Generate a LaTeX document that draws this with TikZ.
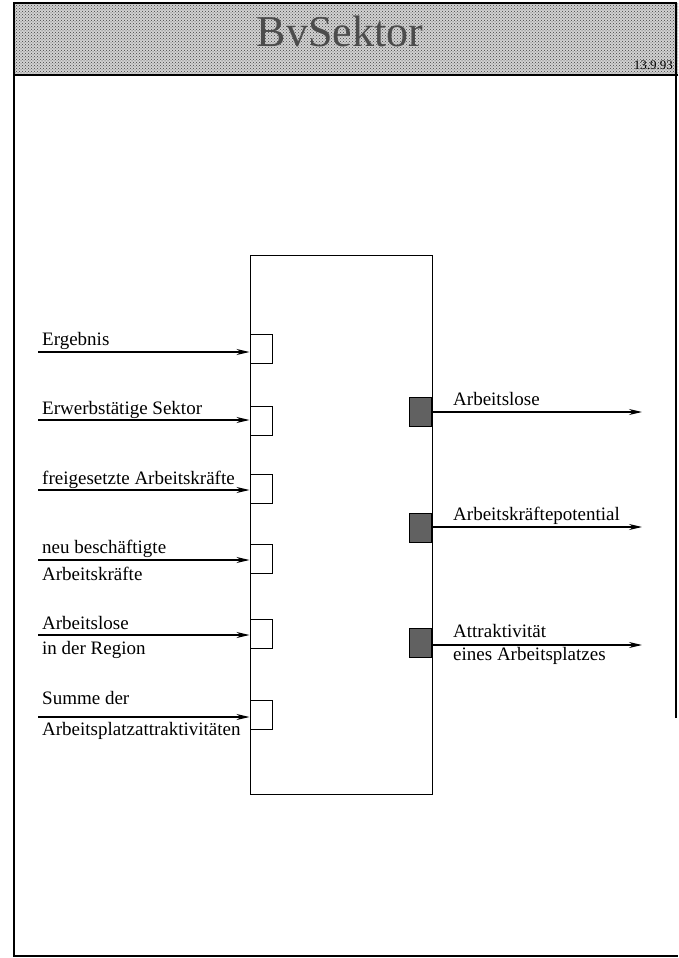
\documentclass[tikz,border=0pt]{standalone}
\usepackage{fontspec}
\setmainfont{Liberation Serif}
\usetikzlibrary{arrows.meta,patterns}
\begin{document}
\begin{tikzpicture}[x=1pt,y=-1pt,
  inport/.style={draw,fill=white,minimum width=22pt,minimum height=29pt,inner sep=0pt,line width=1pt},
  outport/.style={draw,fill=black!62,minimum width=22pt,minimum height=29pt,inner sep=0pt,line width=1pt},
  flow/.style={line width=1.1pt,-{Stealth[length=13pt,width=6pt]}},
  lbl/.style={anchor=base west,inner sep=0pt,font=\fontsize{19}{22}\selectfont}]
\useasboundingbox (0,0) rectangle (678,958);

% header band with dotted shading
\fill[gray!35] (14,3) rectangle (678,75);
\fill[pattern=crosshatch dots, pattern color=black!75] (14,3) rectangle (678,75);
\draw[line width=1.4pt] (14,75) -- (678,75);
\node[anchor=base,inner sep=0pt,text=black!70,font=\fontsize{44}{48}\selectfont] (title) at (340,47) {BvSektor};
\node[anchor=base east,inner sep=0pt,font=\fontsize{13}{15}\selectfont] (date) at (673,70) {13.9.93};

% page frame
\draw[line width=1.6pt] (676,718) -- (676,3) -- (14,3) -- (14,956) -- (678,956);

% block
\node[draw,line width=1.2pt,minimum width=182pt,minimum height=539pt,inner sep=0pt,anchor=north west] (block) at (250,255) {};

% input ports
\node[inport] (p1) at (261,349) {};
\node[inport] (p2) at (261,420.5) {};
\node[inport] (p3) at (261,489) {};
\node[inport] (p4) at (261,558.5) {};
\node[inport] (p5) at (261,634) {};
\node[inport] (p6) at (261,714.5) {};

% output ports
\node[outport] (q1) at (420.5,412) {};
\node[outport] (q2) at (420.5,528) {};
\node[outport] (q3) at (420.5,643) {};

% input flows
\coordinate (s1) at (38,352);
\coordinate (s2) at (38,420);
\coordinate (s3) at (38,490);
\coordinate (s4) at (38,560);
\coordinate (s5) at (38,635);
\coordinate (s6) at (38,717);
\foreach \s/\p in {s1/p1,s2/p2,s3/p3,s4/p4,s5/p5,s6/p6}
  \draw[flow] (\s) -- (\s -| \p.west);

% output flows
\coordinate (e1) at (642,412);
\coordinate (e2) at (642,527);
\coordinate (e3) at (642,645);
\foreach \q/\e in {q1/e1,q2/e2,q3/e3}
  \draw[flow] (\q.east |- \e) -- (\e);

% input labels
\node[lbl] (l1) at (42,345) {Ergebnis};
\node[lbl] (l2) at (42,414) {Erwerbstätige Sektor};
\node[lbl] (l3) at (42,484) {freigesetzte Arbeitskräfte};
\node[lbl] (l4a) at (42,553) {neu beschäftigte};
\node[lbl] (l4b) at (42,580) {Arbeitskräfte};
\node[lbl] (l5a) at (42,629) {Arbeitslose};
\node[lbl] (l5b) at (42,654) {in der Region};
\node[lbl] (l6a) at (42,704) {Summe der};
\node[lbl] (l6b) at (42,735) {Arbeitsplatzattraktivitäten};

% output labels
\node[lbl] (r1) at (453,405) {Arbeitslose};
\node[lbl] (r2) at (453,520) {Arbeitskräftepotential};
\node[lbl] (r3a) at (453,637) {Attraktivität};
\node[lbl] (r3b) at (453,660) {eines Arbeitsplatzes};
\end{tikzpicture}
\end{document}
